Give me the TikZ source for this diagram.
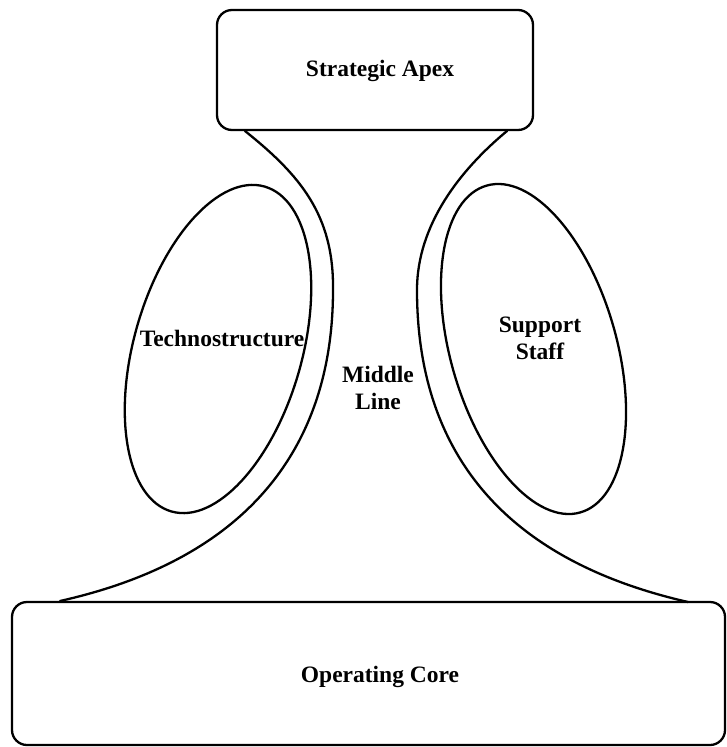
\documentclass[tikz,border=0pt]{standalone}
\usepackage{fontspec}
\setmainfont{Liberation Serif}
\usetikzlibrary{shapes.geometric}
\begin{document}
\begin{tikzpicture}[x=1pt,y=-1pt,
  outline/.style={line width=2.3pt, draw=black},
  unitbox/.style={outline, rounded corners=15pt, inner sep=0pt},
  unitoval/.style={outline, ellipse, inner sep=0pt},
  caption/.style={font=\bfseries\fontsize{23.5}{27}\selectfont, align=center, inner sep=0pt},
  flare/.style={outline, line join=round, line cap=round}]
\useasboundingbox (0,0) rectangle (727,747);

% the five parts of the organisation
\node[unitbox, minimum width=316pt, minimum height=120pt] (apex) at (375,70) {};
\node[unitbox, minimum width=713pt, minimum height=143pt] (core) at (368.5,673.5) {};
\node[unitoval, minimum width=168pt, minimum height=338pt, rotate=-16] (techno) at (218,349) {};
\node[unitoval, minimum width=166pt, minimum height=340pt, rotate=16] (support) at (533.5,349) {};

% captions
\node[caption] (apexlabel) at (380,71) {Strategic Apex};
\node[caption] (corelabel) at (380,677) {Operating Core};
\node[caption] (technolabel) at (222,338) {Technostructure};
\node[caption] (supportlabel) at (540,338) {Support\\Staff};
\node[caption] (middlelabel) at (378,388) {Middle\\Line};

% the middle line flaring from the apex down to the core
\coordinate (lefttop) at (245,131);
\coordinate (leftwaist) at (333,290);
\coordinate (leftfoot) at (60,601);
\coordinate (righttop) at (507,131);
\coordinate (rightwaist) at (417,290);
\coordinate (rightfoot) at (688,602);
\draw[flare] (lefttop) .. controls (300,175) and (334,215) .. (leftwaist)
  .. controls (333,430) and (265,555) .. (leftfoot);
\draw[flare] (righttop) .. controls (460,170) and (417,225) .. (rightwaist)
  .. controls (417,430) and (482,555) .. (rightfoot);
\end{tikzpicture}
\end{document}
